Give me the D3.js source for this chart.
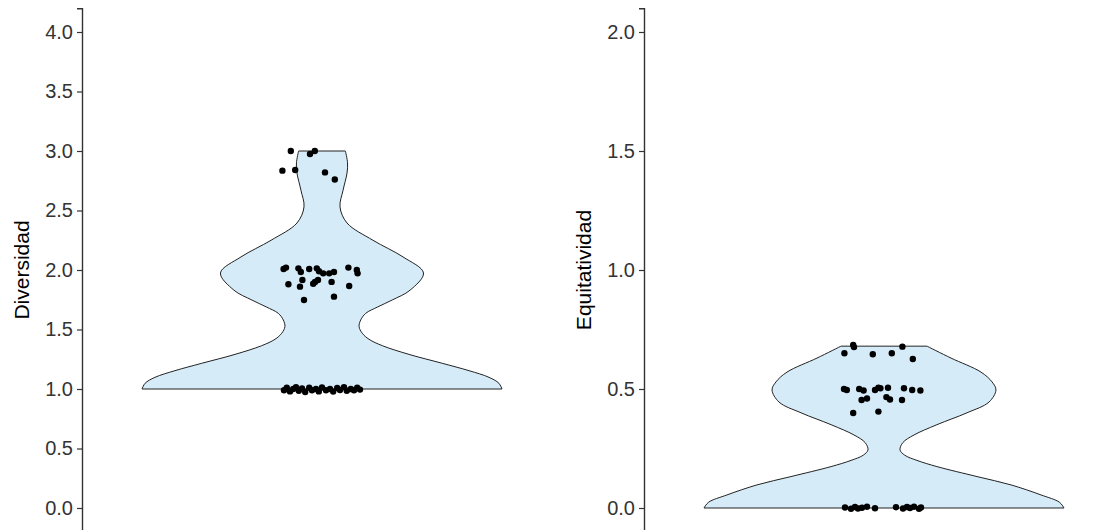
<!DOCTYPE html>
<html>
<head>
<meta charset="utf-8">
<script src="https://cdn.jsdelivr.net/npm/d3@7"></script>
<style>
  body { margin: 0; background: #fff; }
  svg { display: block; font-family: "Liberation Sans", Arial, sans-serif; }
</style>
</head>
<body>
<div id="chart"></div>
<script>
// ---- violin outlines (value, relative density)
var divProfileValue   = [1.0, 1.048, 1.098, 1.154, 1.216, 1.291, 1.364, 1.418, 1.468, 1.524, 1.58, 1.636, 1.69, 1.748, 1.83, 1.975, 2.11, 2.25, 2.395, 2.53, 2.67, 2.815, 2.9, 3.0];
var divProfileDensity = [1.0, 0.983, 0.928, 0.817, 0.668, 0.483, 0.335, 0.261, 0.224, 0.206, 0.215, 0.243, 0.31, 0.39, 0.489, 0.564, 0.45, 0.283, 0.139, 0.1, 0.117, 0.139, 0.142, 0.13];

var eqProfileValue   = [0.0, 0.024, 0.055, 0.097, 0.132, 0.174, 0.2, 0.222, 0.244, 0.275, 0.307, 0.35, 0.4, 0.445, 0.496, 0.53, 0.571, 0.63, 0.68];
var eqProfileDensity = [1.0, 0.975, 0.872, 0.706, 0.517, 0.294, 0.183, 0.115, 0.089, 0.105, 0.167, 0.294, 0.461, 0.583, 0.622, 0.6, 0.539, 0.372, 0.239];

// ---- jittered observations (x offset in category units, value)
var divPointOffset = [-0.078, -0.03, -0.018, -0.099, -0.067, 0.0075, 0.032,
  -0.096, -0.09, -0.059, -0.053, -0.032, -0.013, -0.0075, 0.003, 0.018, 0.03, 0.066, 0.087, 0.089,
  -0.084, -0.049, -0.055, -0.0175, -0.022, -0.01, 0.024, 0.068, -0.045, 0.03,
  -0.095, -0.088, -0.08, -0.072, -0.065, -0.058, -0.05, -0.042, -0.032, -0.025, -0.015, -0.008,
  0.0, 0.01, 0.02, 0.028, 0.038, 0.045, 0.055, 0.062, 0.072, 0.08, 0.088, 0.095];
var divPointValue = [3.0, 2.975, 3.0, 2.835, 2.84, 2.82, 2.76,
  2.008, 2.02, 2.014, 1.983, 2.008, 2.014, 1.99, 1.972, 1.972, 1.983, 2.02, 2.0, 1.972,
  1.88, 1.916, 1.86, 1.9, 1.885, 1.916, 1.9, 1.865, 1.748, 1.776,
  0.99, 1.01, 0.98, 1.0, 1.015, 0.985, 1.005, 0.975, 1.01, 0.99, 1.0, 0.98,
  1.012, 0.99, 1.0, 0.978, 1.008, 0.992, 1.015, 0.985, 1.0, 0.99, 1.01, 0.995];

var eqPointOffset = [-0.077, -0.075, 0.046, -0.099, -0.028, 0.0195, 0.072,
  -0.1, -0.093, -0.062, -0.051, -0.0225, -0.014, -0.009, 0.01, 0.05, 0.0705, 0.091,
  -0.056, -0.0425, 0.006, 0.015, 0.045, -0.077, -0.014,
  -0.0975, -0.0825, -0.0725, -0.065, -0.055, -0.0425, -0.0225,
  0.03, 0.0475, 0.0575, 0.065, 0.075, 0.0875, 0.0925];
var eqPointValue = [0.685, 0.676, 0.678, 0.65, 0.646, 0.65, 0.626,
  0.5, 0.496, 0.5, 0.494, 0.496, 0.505, 0.503, 0.505, 0.503, 0.496, 0.494,
  0.454, 0.46, 0.466, 0.456, 0.454, 0.399, 0.405,
  0.002, -0.003, 0.004, -0.002, 0.001, 0.005, -0.001,
  0.003, -0.002, 0.004, 0.0, 0.005, -0.003, 0.002];

var divTicks = [0, 0.5, 1, 1.5, 2, 2.5, 3, 3.5, 4];
var eqTicks = [0, 0.5, 1, 1.5, 2];

var W = 1116, H = 530;

var svg = d3.select("#chart").append("svg")
    .attr("width", W)
    .attr("height", H);

svg.append("rect").attr("width", W).attr("height", H).attr("fill", "#fff");

// #####################################################
// One violin panel
//
function panel(opts) {
  var g = svg.append("g");

  var x = d3.scaleLinear().domain([0.4, 1.6]).range([opts.left, opts.left + 480]);
  var y = d3.scaleLinear().domain(opts.domain).range([531.8, 8.2]);
  // violin width 0.9 of a category -> max half width 0.45
  var w = d3.scaleLinear().domain([0, 1]).range([0, x(1.45) - x(1)]);

  var prof = opts.profV.map(function(v, i) { return {v: v, d: opts.profD[i]}; });

  var area = d3.area()
      .y(function(d) { return y(d.v); })
      .x0(function(d) { return x(1) - w(d.d); })
      .x1(function(d) { return x(1) + w(d.d); })
      .curve(d3.curveCatmullRom.alpha(0.5));

  g.append("path")
      .datum(prof)
      .attr("d", area)
      .attr("fill", "#d5ebf8")
      .attr("stroke", "#222")
      .attr("stroke-width", 1);

  var pts = opts.ptV.map(function(v, i) { return {v: v, o: opts.ptO[i]}; });
  g.selectAll("circle.pt")
      .data(pts)
      .enter().append("circle")
        .attr("class", "pt")
        .attr("cx", function(d) { return x(1 + d.o); })
        .attr("cy", function(d) { return y(d.v); })
        .attr("r", 3.2)
        .attr("fill", "#000");

  // Y axis
  var ax = g.append("g")
      .attr("transform", "translate(" + opts.left + ",0)")
      .call(d3.axisLeft(y).tickValues(opts.ticks).tickFormat(d3.format(".1f")).tickSizeOuter(0).tickSize(5).tickPadding(4));
  ax.select(".domain").attr("stroke", "#333").attr("stroke-width", 1.4);
  ax.selectAll(".tick line").attr("stroke", "#333").attr("stroke-width", 1.2);
  ax.selectAll(".tick text")
      .attr("fill", "#333")
      .style("font-size", "20px")
      .style("font-family", "Liberation Sans, Arial, sans-serif");

  g.append("text")
      .attr("transform", "translate(" + opts.titleX + "," + ((531.8 + 8.2) / 2) + ") rotate(-90)")
      .attr("text-anchor", "middle")
      .attr("dy", "0.35em")
      .style("font-size", "21px")
      .attr("fill", "#000")
      .text(opts.title);
}

panel({left: 82, domain: [-0.2, 4.2], ticks: divTicks, title: "Diversidad", titleX: 22,
       profV: divProfileValue, profD: divProfileDensity, ptV: divPointValue, ptO: divPointOffset});

panel({left: 644, domain: [-0.1, 2.1], ticks: eqTicks, title: "Equitatividad", titleX: 584,
       profV: eqProfileValue, profD: eqProfileDensity, ptV: eqPointValue, ptO: eqPointOffset});
</script>
</body>
</html>
